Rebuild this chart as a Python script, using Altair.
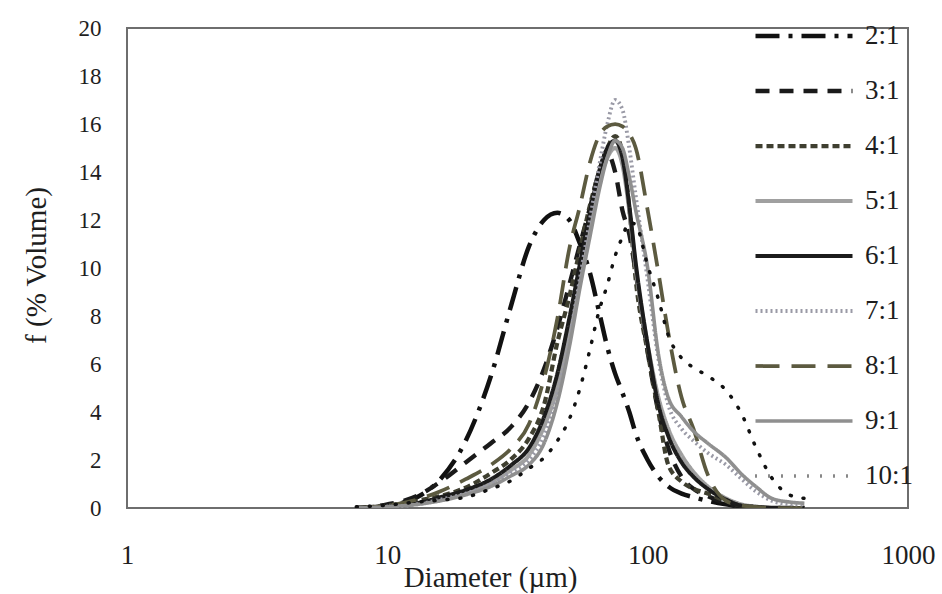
import altair as alt
import pandas as pd

# Particle diameter grid (µm)
diameter = [7.6, 10, 13, 16, 20, 25, 30, 35, 40, 45, 50, 55, 60, 65, 70, 75, 80, 85, 90,
            100, 110, 120, 135, 150, 170, 200, 230, 260, 300, 350, 400]

series_names = ["2:1", "3:1", "4:1", "5:1", "6:1", "7:1", "8:1", "9:1", "10:1"]

f_2_1 = [0, 0.1, 0.45, 1.2, 2.8, 5.5, 8.5, 10.9, 12.0, 12.3, 12.0, 11.0, 9.8, 8.2, 6.7, 5.6, 4.8, 4.0, 3.1,
         2.0, 1.3, 0.9, 0.6, 0.45, 0.3, 0.15, 0.05, 0, 0, 0, 0]
f_3_1 = [0, 0.15, 0.5, 1.1, 1.9, 2.7, 3.4, 4.4, 5.8, 7.5, 9.3, 11.0, 12.5, 14.0, 14.8, 14.0, 12.4, 11.4, 9.8,
         6.5, 4.0, 2.5, 1.3, 0.8, 0.5, 0.2, 0.05, 0, 0, 0, 0]
f_4_1 = [0, 0.1, 0.3, 0.5, 0.85, 1.45, 2.05, 2.9, 4.3, 6.9, 8.8, 10.8, 12.6, 14.0, 15.0, 15.5, 14.8, 12.5, 9.5,
         6.5, 4.0, 1.8, 1.1, 0.8, 0.6, 0.3, 0.1, 0.05, 0, 0, 0]
f_5_1 = [0, 0.05, 0.2, 0.4, 0.65, 1.05, 1.6, 2.2, 3.4, 5.0, 7.2, 9.5, 11.8, 13.5, 14.6, 15.0, 14.3, 12.4, 10.0,
         6.8, 4.6, 3.3, 2.2, 1.5, 0.9, 0.4, 0.15, 0.05, 0, 0, 0]
f_6_1 = [0, 0.05, 0.2, 0.45, 0.75, 1.2, 1.8, 2.5, 3.8, 5.6, 7.9, 10.2, 12.3, 14.0, 15.0, 15.3, 14.6, 12.6, 10.2,
         6.8, 4.3, 3.0, 1.9, 1.3, 0.8, 0.35, 0.1, 0.05, 0, 0, 0]
f_7_1 = [0, 0.05, 0.15, 0.35, 0.6, 1.0, 1.5, 2.0, 3.0, 4.7, 7.0, 9.6, 12.0, 14.2, 16.0, 17.0, 16.6, 15.0, 13.0,
         9.5, 6.2, 4.3, 3.3, 2.8, 2.3, 1.8, 1.2, 0.7, 0.3, 0.15, 0.1]
f_8_1 = [0, 0.1, 0.35, 0.7, 1.2, 1.8, 2.5, 3.5, 5.4, 7.9, 10.8, 12.6, 14.4, 15.5, 15.9, 16.0, 15.9, 15.6, 15.0,
         12.4, 9.8, 7.3, 4.6, 3.3, 1.4, 0.3, 0.1, 0.05, 0, 0, 0]
f_9_1 = [0, 0.05, 0.15, 0.3, 0.55, 0.9, 1.35, 1.8, 2.7, 4.4, 6.7, 9.2, 11.3, 13.2, 14.6, 15.3, 15.0, 13.8, 12.4,
         10.0, 6.4, 4.6, 3.8, 3.2, 2.7, 2.1, 1.4, 0.9, 0.4, 0.25, 0.2]
f_10_1 = [0.05, 0.12, 0.25, 0.33, 0.45, 0.8, 1.15, 1.65, 2.1, 2.8, 3.7, 5.0, 6.6, 8.2, 9.3, 10.5, 11.3, 11.9, 11.8,
          10.1, 8.7, 7.2, 6.25, 5.85, 5.5, 4.9, 3.9, 2.55, 1.25, 0.55, 0.4]

series_values = [f_2_1, f_3_1, f_4_1, f_5_1, f_6_1, f_7_1, f_8_1, f_9_1, f_10_1]

x_ticks = [1, 10, 100, 1000]
y_ticks = [0, 2, 4, 6, 8, 10, 12, 14, 16, 18, 20]

colors = ["#111111", "#1a1a1a", "#3f3f30", "#a0a0a0", "#1c1c1c", "#9a9aa6", "#5c5a40", "#8f8f8f", "#111111"]
dashes = [[24, 9, 4, 9], [14, 10], [7, 4], [1, 0], [1, 0], [2, 3], [24, 12], [1, 0], [1, 12]]
widths = [4.5, 3.5, 3, 1.2, 2, 2.5, 5, 4, 5.5]
caps = ["butt", "butt", "butt", "butt", "butt", "butt", "butt", "butt", "round"]

rows = []
for name, vals in zip(series_names, series_values):
    for d, v in zip(diameter, vals):
        rows.append({"Diameter": d, "f": v, "Series": name})
df = pd.DataFrame(rows)

FONT = "Liberation Serif"
TXT = "#1e1e1e"

x_enc = alt.X("Diameter:Q",
              scale=alt.Scale(type="log", domain=[1, 1000]),
              axis=alt.Axis(values=x_ticks, format="d", tickSize=0, domain=False, grid=False,
                            labelFont=FONT, labelFontSize=27, labelColor=TXT, labelPadding=55,
                            labelBaseline="alphabetic", labelFlush=False, labelOverlap=False,
                            title="Diameter (µm)", titleFont=FONT, titleFontSize=29,
                            titleFontWeight="normal", titleColor=TXT,
                            titleX=363, titleY=78, titleAlign="center", titleBaseline="alphabetic"))
y_enc = alt.Y("f:Q",
              scale=alt.Scale(domain=[0, 20], nice=False),
              axis=alt.Axis(values=y_ticks, tickSize=0, domain=False, grid=False,
                            labelFont=FONT, labelFontSize=23, labelColor=TXT, labelPadding=26,
                            labelFlush=False,
                            title="f (% Volume)", titleFont=FONT, titleFontSize=29,
                            titleFontWeight="normal", titleColor=TXT,
                            titleAngle=270, titleX=-91, titleY=237,
                            titleAlign="center", titleBaseline="middle"))

legend = alt.Legend(title=None, orient="none", legendX=626, legendY=-3,
                    symbolType="stroke", symbolSize=9409, labelFont=FONT, labelFontSize=27,
                    labelColor=TXT, labelOffset=10, clipHeight=22, rowPadding=28)

color_enc = alt.Color("Series:N", scale=alt.Scale(domain=series_names, range=colors), legend=legend,
                      sort=series_names)
dash_enc = alt.StrokeDash("Series:N", scale=alt.Scale(domain=series_names, range=dashes), legend=legend,
                          sort=series_names)
width_enc = alt.StrokeWidth("Series:N", scale=alt.Scale(domain=series_names, range=widths), legend=legend,
                            sort=series_names)

layers = []
for name, cap in zip(series_names, caps):
    layers.append(
        alt.Chart(df).transform_filter(alt.datum.Series == name)
        .mark_line(interpolate="monotone", strokeCap=cap, clip=True)
        .encode(x=x_enc, y=y_enc, color=color_enc, strokeDash=dash_enc, strokeWidth=width_enc)
    )

chart = alt.layer(*layers).properties(
    width=781, height=480,
    autosize=alt.AutoSizeParams(type="none"),
    padding={"left": 127, "top": 28, "right": 34, "bottom": 86},
    background="white",
).configure_view(stroke="#6e6e6e", strokeWidth=2)

chart.save("out.html", embed_options={"renderer": "svg", "actions": False})
